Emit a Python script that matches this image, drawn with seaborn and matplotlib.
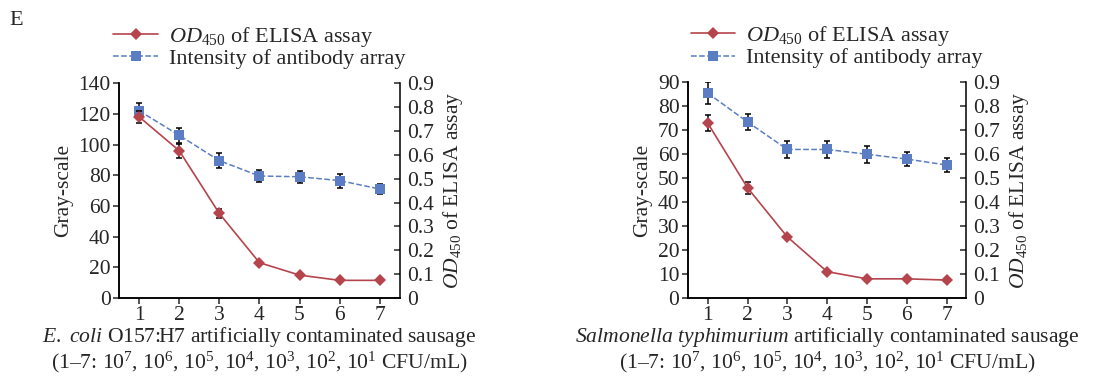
import numpy as np
import pandas as pd
import matplotlib
matplotlib.use("Agg")
import matplotlib.pyplot as plt
import seaborn as sns
from matplotlib.lines import Line2D

sns.set_style("ticks")
plt.rcParams['font.family'] = ['Liberation Serif', 'DejaVu Serif']
plt.rcParams['mathtext.fontset'] = 'custom'
plt.rcParams['mathtext.rm'] = 'Liberation Serif'
plt.rcParams['mathtext.it'] = 'Liberation Serif:italic'
plt.rcParams['mathtext.bf'] = 'Liberation Serif:bold'

# ---- data ----
samples = [1, 2, 3, 4, 5, 6, 7]

ecoli_gray = [122, 106, 89.5, 79.5, 79, 76.5, 71]
ecoli_gray_err = [5, 5, 5, 4, 4, 4.5, 3.5]
ecoli_od = [0.759, 0.617, 0.354, 0.148, 0.096, 0.074, 0.074]
ecoli_od_err = [0.026, 0.03, 0.02, 0.006, 0.005, 0.005, 0.005]

salm_gray = [85.5, 73.5, 62, 62, 60, 58, 55.5]
salm_gray_err = [4.5, 3.5, 3.5, 3.5, 3.5, 3, 3]
salm_od = [0.73, 0.46, 0.255, 0.11, 0.08, 0.08, 0.075]
salm_od_err = [0.035, 0.025, 0.01, 0.006, 0.005, 0.005, 0.005]

left_ticks_ecoli = [0, 20, 40, 60, 80, 100, 120, 140]
left_ticks_salm = [0, 10, 20, 30, 40, 50, 60, 70, 80, 90]
right_ticks = [0, 0.1, 0.2, 0.3, 0.4, 0.5, 0.6, 0.7, 0.8, 0.9]
right_tick_labels = ['0', '0.1', '0.2', '0.3', '0.4', '0.5', '0.6', '0.7', '0.8', '0.9']

xlabel_ecoli = r'$\mathit{E.}$ $\mathit{coli}$ O157:H7 artificially contaminated sausage'
xlabel_salm = r'$\mathit{Salmonella}$ $\mathit{typhimurium}$ artificially contaminated sausage'
xlabel_conc = r'(1–7: 10$^{7}$, 10$^{6}$, 10$^{5}$, 10$^{4}$, 10$^{3}$, 10$^{2}$, 10$^{1}$ CFU/mL)'
od_label = r'$\mathit{OD}_{450}$ of ELISA assay'
int_label = 'Intensity of antibody array'

RED = '#B5444C'
BLUE = '#5B7DC3'
TFS = 15.5
LFS = 16
XFS = 15.6

fig = plt.figure(figsize=(10.97, 3.77), dpi=100)
fig.patch.set_facecolor('white')


def panel(rect, gray, gerr, od, oderr, yticks, ymax, xlabel, leg_x):
    ax = fig.add_axes(rect)
    ax2 = ax.twinx()
    dfg = pd.DataFrame({'x': samples, 'y': gray})
    dfo = pd.DataFrame({'x': samples, 'y': od})
    ax.errorbar(samples, gray, yerr=gerr, fmt='none', ecolor='black',
                elinewidth=1.1, capsize=2.5, capthick=1.1, zorder=2)
    sns.lineplot(data=dfg, x='x', y='y', ax=ax, color=BLUE, linestyle='--',
                 linewidth=1.1, marker='s', markersize=7.5, markeredgewidth=0,
                 zorder=3)
    ax2.errorbar(samples, od, yerr=oderr, fmt='none', ecolor='black',
                 elinewidth=1.1, capsize=2.5, capthick=1.1, zorder=2)
    sns.lineplot(data=dfo, x='x', y='y', ax=ax2, color=RED, linestyle='-',
                 linewidth=1.2, marker='D', markersize=6.5, markeredgewidth=0,
                 zorder=3)
    ax.set_xlim(0.5, 7.5)
    ax.set_ylim(0, ymax)
    ax2.set_ylim(0, 0.9)
    ax.set_xticks(samples)
    ax.set_xticklabels([str(s) for s in samples], fontsize=TFS)
    ax.set_yticks(yticks)
    ax.set_yticklabels([str(t) for t in yticks], fontsize=TFS)
    ax2.set_yticks(right_ticks)
    ax2.set_yticklabels(right_tick_labels, fontsize=TFS)
    ax.tick_params(axis='both', direction='out', length=4, width=1.1, pad=2)
    ax2.tick_params(axis='y', direction='in', length=4, width=1.1, pad=5)
    for a in (ax, ax2):
        a.spines['top'].set_visible(False)
        for s in ('left', 'right', 'bottom'):
            a.spines[s].set_linewidth(1.1)
            a.spines[s].set_color('black')
    ax.spines['right'].set_visible(False)
    ax.set_xlabel(xlabel + '\n' + xlabel_conc, fontsize=XFS, labelpad=0,
                  linespacing=1.0)
    ax.set_ylabel('Gray-scale', fontsize=TFS, labelpad=4)
    ax2.set_ylabel(od_label, fontsize=TFS, labelpad=5)
    ax.patch.set_alpha(0)
    handles = [Line2D([], [], color=RED, marker='D', markersize=6.5,
                      markeredgewidth=0, linewidth=1.2),
               Line2D([], [], color=BLUE, marker='s', markersize=7.5,
                      markeredgewidth=0, linewidth=1.1, linestyle='--')]
    ax2.legend(handles, [od_label, int_label], loc='lower left',
               bbox_to_anchor=(leg_x, 1.065), frameon=False, fontsize=LFS,
               handlelength=2.0, handletextpad=0.5, labelspacing=0.0,
               borderaxespad=0, borderpad=0)
    return ax


panel([0.1085, 0.2095, 0.256, 0.570], ecoli_gray, ecoli_gray_err, ecoli_od,
      ecoli_od_err, left_ticks_ecoli, 140, xlabel_ecoli, -0.02)
panel([0.627, 0.2095, 0.254, 0.572], salm_gray, salm_gray_err, salm_od,
      salm_od_err, left_ticks_salm, 90, xlabel_salm, 0.01)

fig.text(0.009, 0.945, 'E', fontsize=LFS, ha='left', va='center')

fig.savefig('out.png', dpi=100, facecolor='white')
